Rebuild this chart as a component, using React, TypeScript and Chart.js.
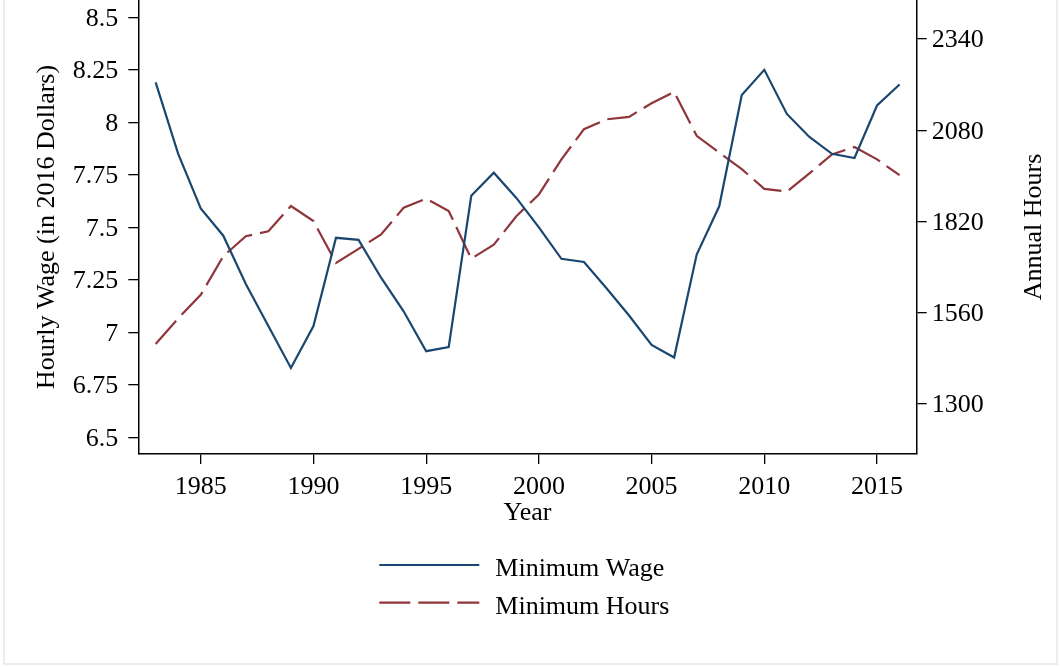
import React, { useEffect, useRef } from 'react';
import { Chart, registerables } from 'chart.js';

Chart.register(...registerables);

// ---- Data ----
const years = [
  1983, 1984, 1985, 1986, 1987, 1988, 1989, 1990, 1991, 1992, 1993, 1994,
  1995, 1996, 1997, 1998, 1999, 2000, 2001, 2002, 2003, 2004, 2005, 2006,
  2007, 2008, 2009, 2010, 2011, 2012, 2013, 2014, 2015, 2016,
];
const minimumWage = [
  8.19, 7.85, 7.59, 7.46, 7.23, 7.03, 6.83, 7.03, 7.45, 7.44, 7.26, 7.1,
  6.91, 6.93, 7.65, 7.76, 7.64, 7.5, 7.35, 7.335, 7.21, 7.08, 6.94, 6.88,
  7.37, 7.6, 8.13, 8.25, 8.04, 7.93, 7.85, 7.83, 8.08, 8.18,
];
const minimumHours = [
  1471, 1544, 1611, 1721, 1778, 1792, 1864, 1821, 1702, 1742, 1783, 1859,
  1885, 1850, 1714, 1754, 1835, 1897, 1997, 2083, 2111, 2118, 2157, 2189,
  2064, 2016, 1969, 1913, 1905, 1957, 2011, 2032, 1997, 1952,
];
const yearTicks = [1985, 1990, 1995, 2000, 2005, 2010, 2015];
const wageTicks = [6.5, 6.75, 7, 7.25, 7.5, 7.75, 8, 8.25, 8.5];
const hoursTicks = [1300, 1560, 1820, 2080, 2340];
const seriesLabels = ['Minimum Wage', 'Minimum Hours'];
const axisTitles = {
  x: 'Year',
  wage: 'Hourly Wage (in 2016 Dollars)',
  hours: 'Annual Hours',
};

// ---- Styles ----
const FONT_FAMILY = '"Liberation Serif", "Times New Roman", serif';
const FONT_SIZE = 26;
const NAVY = '#1a476f';
const MAROON = '#90353b';
const AXIS = '#000000';

const legendPlugin = {
  id: 'stackedLegend',
  afterDraw(chart: any) {
    const ctx = chart.ctx;
    const area = chart.chartArea;
    const x0 = area.left + 241;
    const top = area.bottom + 111;
    const row = 37.7;
    chart.data.datasets.forEach((ds: any, i: number) => {
      const y = top + i * row;
      ctx.save();
      ctx.strokeStyle = ds.borderColor;
      ctx.lineWidth = ds.borderWidth;
      ctx.lineCap = 'butt';
      ctx.setLineDash(ds.borderDash || []);
      ctx.beginPath();
      ctx.moveTo(x0, y);
      ctx.lineTo(x0 + 100, y);
      ctx.stroke();
      ctx.setLineDash([]);
      ctx.fillStyle = '#000';
      ctx.font = `${FONT_SIZE}px ${FONT_FAMILY}`;
      ctx.textBaseline = 'alphabetic';
      ctx.textAlign = 'left';
      ctx.fillText(ds.label, x0 + 116, y + 11);
      ctx.restore();
    });
  },
};

// Right axis title, reading bottom-to-top like the left one
const rightTitlePlugin = {
  id: 'rightTitle',
  afterDraw(chart: any) {
    const scale = chart.scales.y1;
    if (!scale) return;
    const ctx = chart.ctx;
    ctx.save();
    ctx.translate(scale.right - 20, (scale.top + scale.bottom) / 2);
    ctx.rotate(-Math.PI / 2);
    ctx.fillStyle = '#000';
    ctx.font = `${FONT_SIZE}px ${FONT_FAMILY}`;
    ctx.textAlign = 'center';
    ctx.textBaseline = 'alphabetic';
    ctx.fillText(axisTitles.hours, 0, 0);
    ctx.restore();
  },
};

function fixSize(size: number) {
  return (scale: any) => {
    if (scale.isHorizontal()) scale.height = size;
    else scale.width = size;
    scale.paddingTop = 0;
    scale.paddingBottom = 0;
    scale.paddingLeft = 0;
    scale.paddingRight = 0;
  };
}

function setTicks(values: number[]) {
  return (scale: any) => {
    scale.ticks = values.map((v) => ({ value: v }));
  };
}

export default function App() {
  const canvasRef = useRef<HTMLCanvasElement | null>(null);

  useEffect(() => {
    if (!canvasRef.current) return;
    const font = { family: FONT_FAMILY, size: FONT_SIZE };
    const gridStyle = {
      drawOnChartArea: false,
      drawTicks: true,
      tickLength: 10,
      color: AXIS,
      lineWidth: 1.3,
    };
    const chart = new Chart(canvasRef.current, {
      type: 'line',
      data: {
        datasets: [
          {
            label: seriesLabels[0],
            data: years.map((yr, i) => ({ x: yr, y: minimumWage[i] })),
            borderColor: NAVY,
            backgroundColor: NAVY,
            borderWidth: 2.2,
            pointRadius: 0,
            tension: 0,
            yAxisID: 'y',
          },
          {
            label: seriesLabels[1],
            data: years.map((yr, i) => ({ x: yr, y: minimumHours[i] })),
            borderColor: MAROON,
            backgroundColor: MAROON,
            borderWidth: 2.2,
            borderDash: [31, 8],
            pointRadius: 0,
            tension: 0,
            yAxisID: 'y1',
          },
        ],
      },
      options: {
        animation: false,
        responsive: false,
        devicePixelRatio: 1,
        layout: { padding: { top: 0, left: 0, right: 0, bottom: 133 } },
        plugins: {
          legend: { display: false },
          tooltip: { enabled: false },
        },
        scales: {
          x: {
            type: 'linear',
            min: 1982.23,
            max: 2016.76,
            afterBuildTicks: setTicks(yearTicks),
            afterFit: fixSize(80),
            grid: gridStyle,
            border: { display: true, color: AXIS, width: 1.5 },
            ticks: {
              color: '#000',
              font,
              padding: 8,
              maxRotation: 0,
              autoSkip: false,
              callback: (v: any) => String(v),
            },
            title: {
              display: true,
              text: axisTitles.x,
              color: '#000',
              font,
              padding: { top: 0, bottom: 5 },
            },
          },
          y: {
            type: 'linear',
            position: 'left',
            min: 6.4205,
            max: 8.5824,
            afterBuildTicks: setTicks(wageTicks),
            afterFit: fixSize(138.3),
            grid: gridStyle,
            border: { display: true, color: AXIS, width: 1.5 },
            ticks: {
              color: '#000',
              font,
              padding: 10,
              labelOffset: 1.5,
              callback: (v: any) => String(v),
            },
            title: {
              display: true,
              text: axisTitles.wage,
              color: '#000',
              font,
              padding: { top: 32, bottom: 0 },
            },
          },
          y1: {
            type: 'linear',
            position: 'right',
            min: 1157.5,
            max: 2451,
            afterBuildTicks: setTicks(hoursTicks),
            afterFit: fixSize(144.3),
            grid: gridStyle,
            border: { display: true, color: AXIS, width: 1.5 },
            ticks: {
              color: '#000',
              font,
              padding: 5,
              labelOffset: 1.5,
              callback: (v: any) => String(v),
            },
            title: { display: false },
          },
        },
      },
      plugins: [legendPlugin, rightTitlePlugin],
    });
    return () => chart.destroy();
  }, []);

  return (
    <div
      style={{
        position: 'absolute',
        left: 0,
        top: 0,
        width: 1061,
        height: 667,
        background: '#fff',
        overflow: 'hidden',
      }}
    >
      <div
        style={{
          position: 'absolute',
          left: 3,
          top: -10,
          width: 1055,
          height: 675,
          border: '2px solid #e6eeee',
          boxSizing: 'border-box',
        }}
      />
      <canvas
        ref={canvasRef}
        width={1061}
        height={667}
        style={{ position: 'absolute', left: 0, top: 0, display: 'block' }}
      />
    </div>
  );
}
